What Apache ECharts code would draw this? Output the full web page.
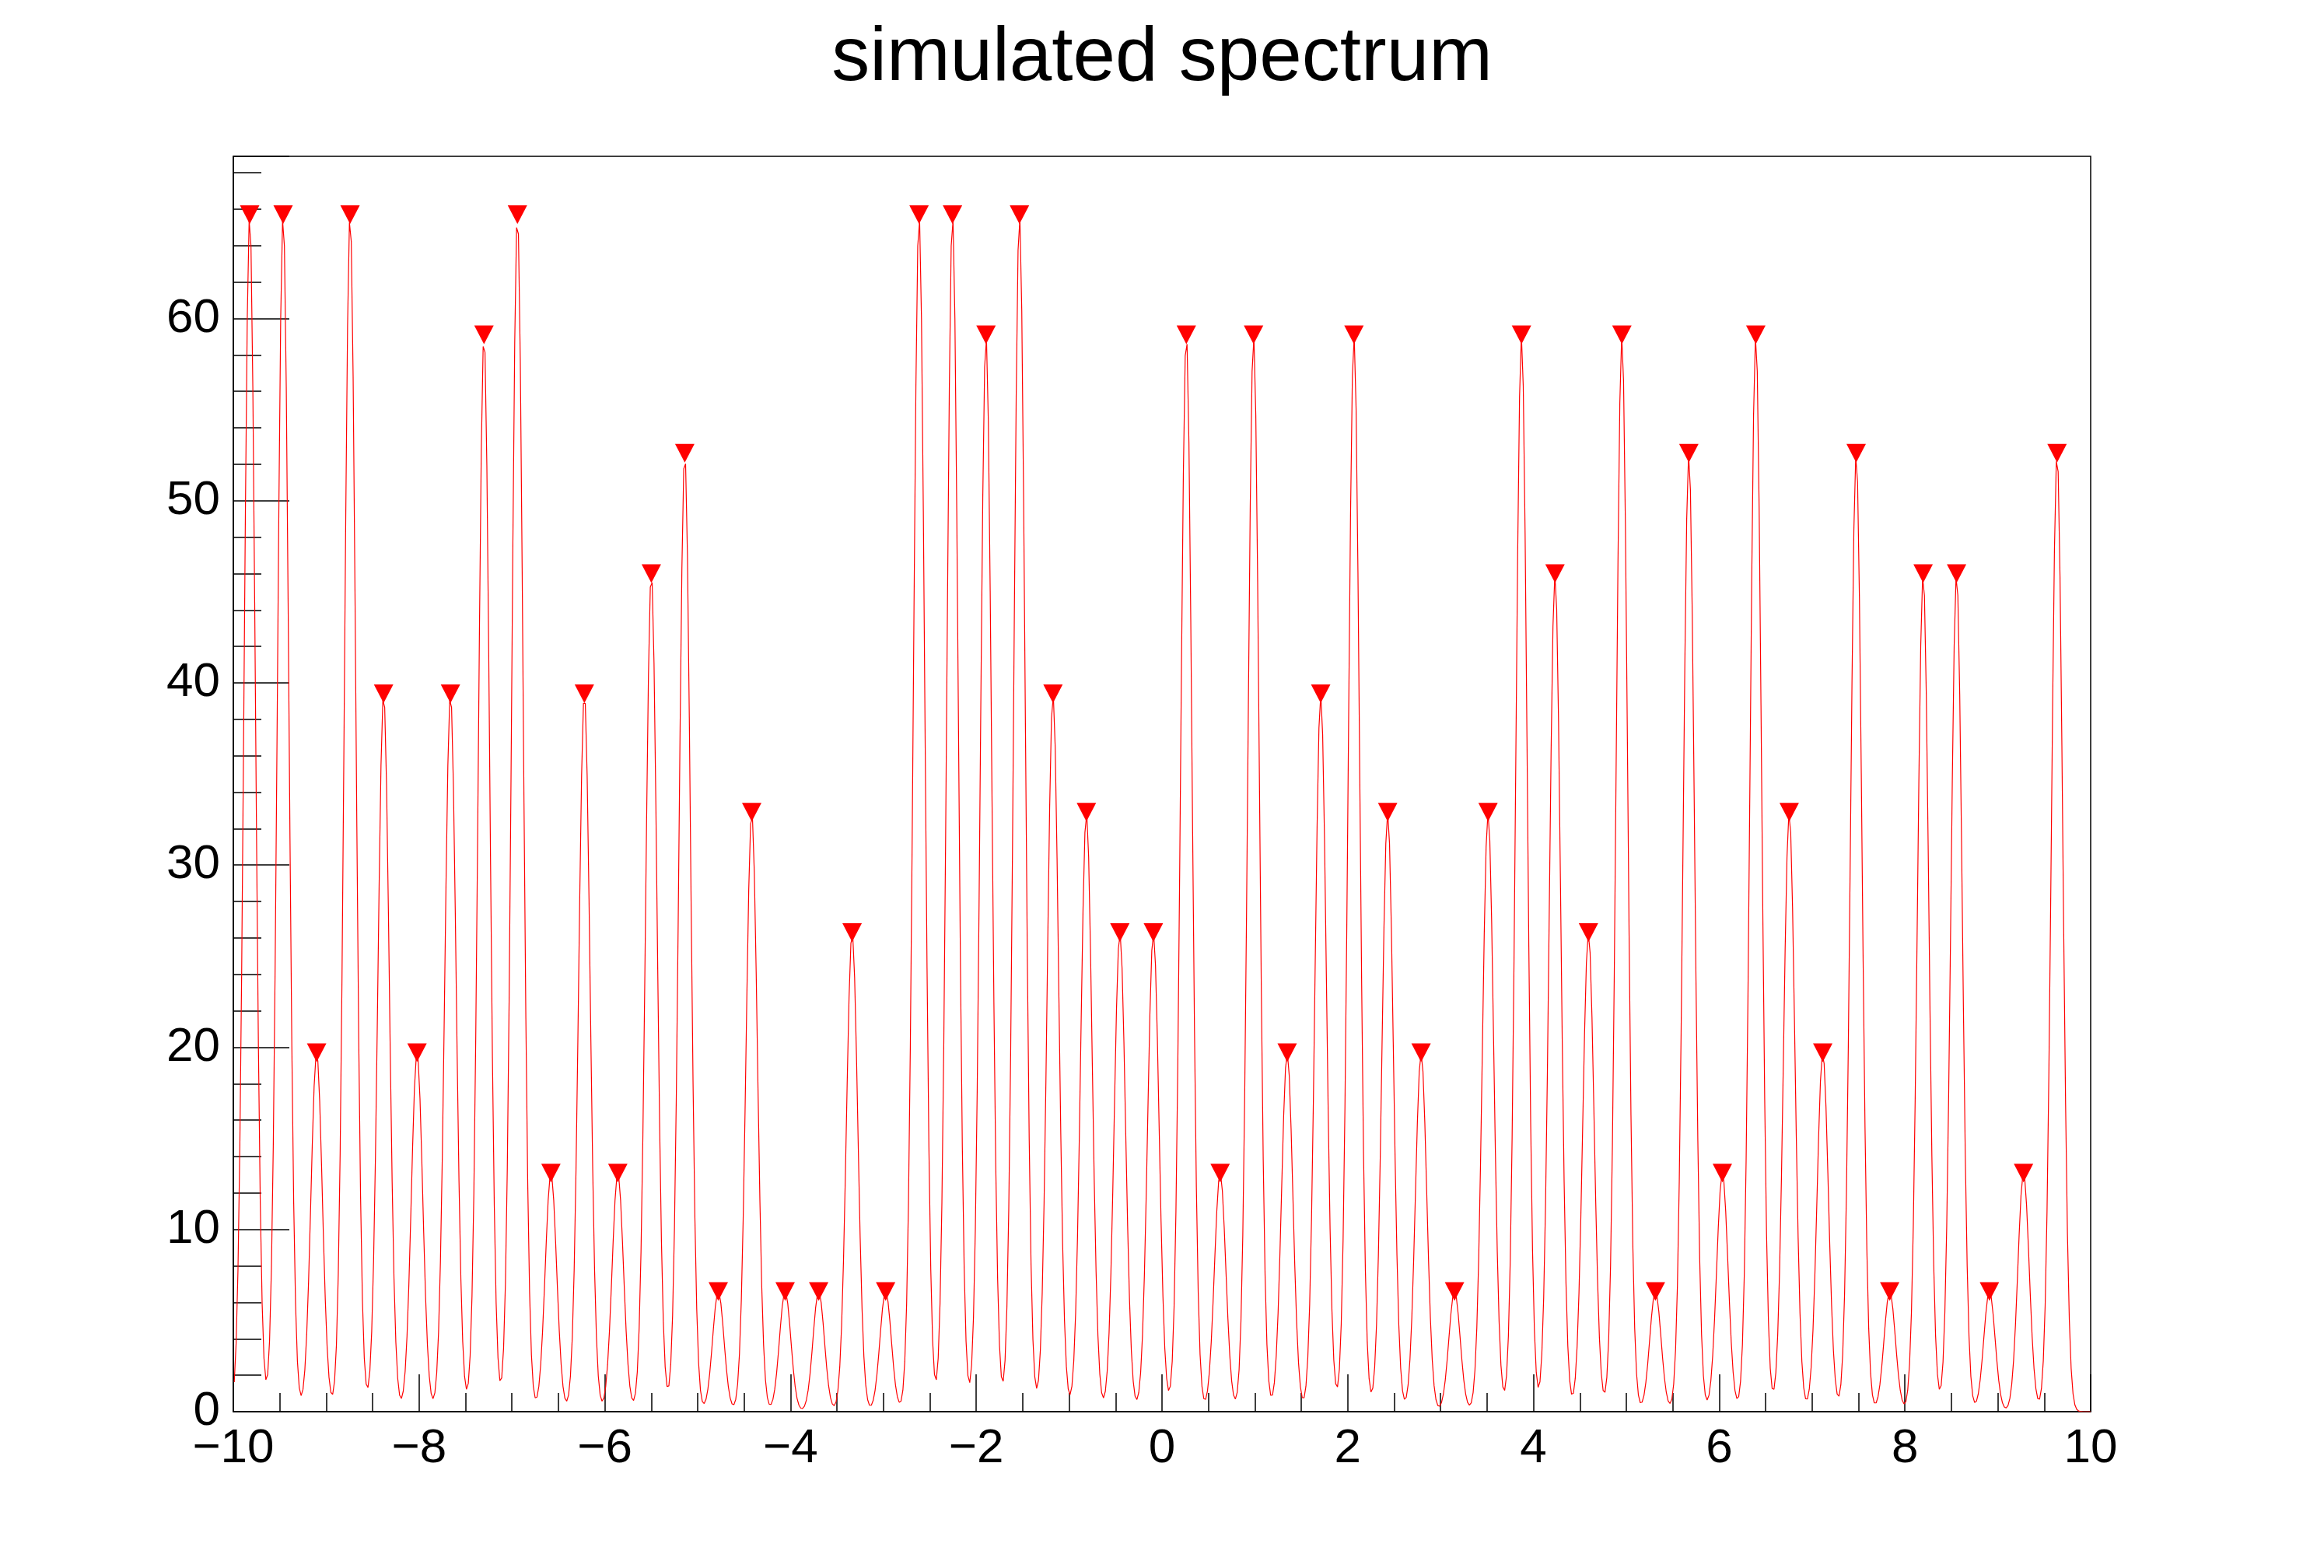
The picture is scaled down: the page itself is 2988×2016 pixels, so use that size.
<!DOCTYPE html>
<html>
<head>
<meta charset="utf-8">
<title>simulated spectrum</title>
<script src="https://cdn.jsdelivr.net/npm/echarts@6/dist/echarts.min.js"></script>
<style>
  html, body { margin: 0; padding: 0; background: #fff; }
  #main { width: 2988px; height: 2016px; }
</style>
</head>
<body>
<div id="main"></div>
<script>
  // peaks: position on x and height of each found peak
  var peakX = [
    -9.824, -9.464, -9.103, -8.743, -8.382, -8.022, -7.662, -7.301, -6.941, -6.580,
    -6.220, -5.860, -5.499, -5.139, -4.778, -4.418, -4.058, -3.697, -3.337, -2.976,
    -2.616, -2.256, -1.895, -1.535, -1.174, -0.814, -0.454, -0.093, 0.262, 0.626,
    0.986, 1.348, 1.709, 2.067, 2.430, 2.790, 3.150, 3.511, 3.871, 4.232,
    4.592, 4.952, 5.313, 5.673, 6.034, 6.394, 6.754, 7.115, 7.475, 7.836,
    8.196, 8.556, 8.910, 9.277, 9.638
  ];
  var peakY = [
    65.7, 65.7, 19.7, 65.7, 39.4, 19.7, 39.4, 59.1, 65.7, 13.1,
    39.4, 13.1, 46.0, 52.6, 6.6, 32.9, 6.6, 6.6, 26.3, 6.6,
    65.7, 65.7, 59.1, 65.7, 39.4, 32.9, 26.3, 26.3, 59.1, 13.1,
    59.1, 19.7, 39.4, 59.1, 32.9, 19.7, 6.6, 32.9, 59.1, 46.0,
    26.3, 59.1, 6.6, 52.6, 13.1, 59.1, 32.9, 19.7, 52.6, 6.6,
    46.0, 46.0, 6.6, 13.1, 52.6
  ];
  var peakSigma = 0.061;   // width of every peak, read from the valleys
  var nBins = 1000;

  var xLabels = [-10, -8, -6, -4, -2, 0, 2, 4, 6, 8, 10];
  var yLabels = [0, 10, 20, 30, 40, 50, 60];
  var yTop = 68.9;

  var myChart = echarts.init(document.getElementById('main'));

  // histogram contents: every bin is the sum of the peaks above
  var xMin = xLabels[0], xMax = xLabels[xLabels.length - 1];
  var binW = (xMax - xMin) / nBins;
  var spectrum = [];
  for (var b = 0; b < nBins; b++) {
    var x = xMin + (b + 0.5) * binW;
    var y = 0;
    for (var p = 0; p < peakX.length; p++) {
      var d = x - peakX[p];
      y += peakY[p] * Math.exp(-d * d / (2 * peakSigma * peakSigma));
    }
    spectrum.push([x, y]);
  }
  spectrum.push([xMax, spectrum[spectrum.length - 1][1]]);

  var markers = [];
  for (var i = 0; i < peakX.length; i++) markers.push([peakX[i], peakY[i]]);

  var font = '"Liberation Sans", Helvetica, Arial, sans-serif';
  var minus = function (v) { return String(v).replace('-', '\u2212'); };

  var option = {
    backgroundColor: '#fff',
    animation: false,
    title: {
      text: 'simulated spectrum',
      left: 'center',
      top: 22,
      textStyle: { fontFamily: font, fontSize: 98, fontWeight: 'normal', color: '#000' }
    },
    grid: {
      left: 300, right: 300, top: 201, bottom: 201,
      show: true, borderColor: '#000', borderWidth: 1.5, backgroundColor: 'transparent'
    },
    xAxis: {
      type: 'value',
      min: xMin, max: xMax,
      interval: xLabels[1] - xLabels[0],
      axisLine: { show: true, onZero: false, lineStyle: { color: '#000', width: 1.5 } },
      axisTick: { show: true, inside: true, length: 48, lineStyle: { color: '#000', width: 1.5 } },
      minorTick: { show: true, splitNumber: 4, length: 24, lineStyle: { color: '#000', width: 1.5 } },
      splitLine: { show: false },
      axisLabel: { fontFamily: font, fontSize: 62, color: '#000', margin: 17, formatter: minus }
    },
    yAxis: {
      type: 'value',
      min: yLabels[0], max: yTop,
      interval: yLabels[1] - yLabels[0],
      axisLine: { show: true, onZero: false, lineStyle: { color: '#000', width: 1.5 } },
      axisTick: { show: true, inside: true, length: 72, lineStyle: { color: '#000', width: 1.5 } },
      minorTick: { show: true, splitNumber: 5, length: 36, lineStyle: { color: '#000', width: 1.5 } },
      splitLine: { show: false },
      axisLabel: { fontFamily: font, fontSize: 62, color: '#000', margin: 17, showMaxLabel: false }
    },
    series: [
      {
        name: 'spectrum',
        type: 'line',
        data: spectrum,
        showSymbol: false,
        sampling: 'none',
        lineStyle: { color: '#ff0000', width: 1.2 },
        z: 3
      },
      {
        name: 'peaks',
        type: 'scatter',
        data: markers,
        symbol: 'triangle',
        symbolRotate: 180,
        symbolSize: [25, 24],
        itemStyle: { color: '#ff0000', opacity: 1 },
        z: 4
      }
    ]
  };

  myChart.setOption(option);
</script>
</body>
</html>
